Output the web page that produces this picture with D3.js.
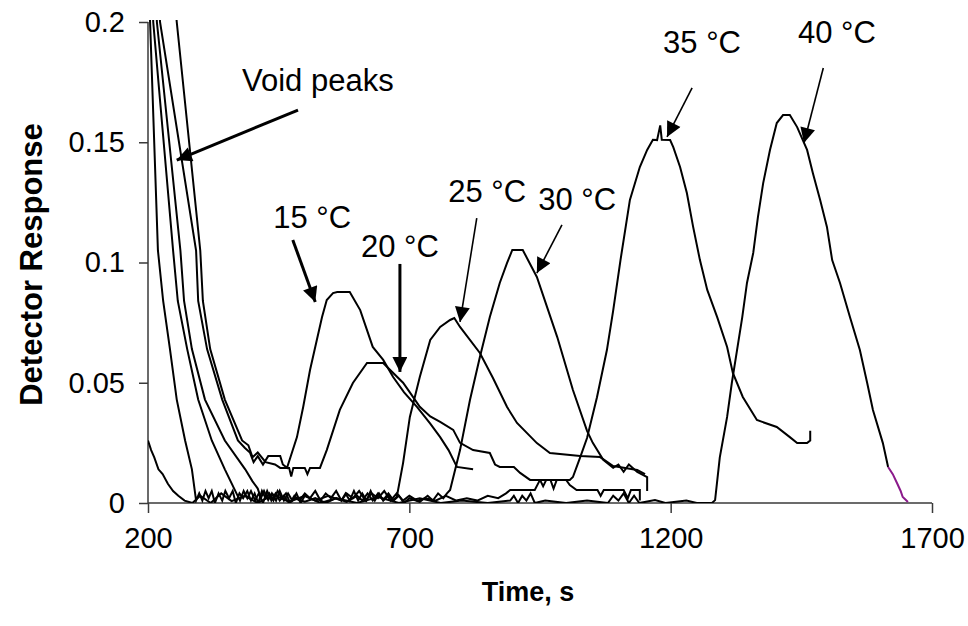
<!DOCTYPE html>
<html>
<head>
<meta charset="utf-8">
<script src="https://cdn.jsdelivr.net/npm/d3@7"></script>
<style>
  body { margin: 0; background: #fff; }
  #graphicContainer { width: 968px; height: 626px; }
  text { font-family: "Liberation Sans", Arial, sans-serif; }
</style>
</head>
<body>
<div id="graphicContainer"></div>
<script>
// tick values
const xTicks = [200, 700, 1200, 1700];
const yTicks = [0, 0.05, 0.1, 0.15, 0.2];

// one trace per column temperature, [time s, detector response]
const run15 = [[200,0.3],[223,0.2],[292,0.105],[296,0.084],[313,0.064],[342,0.043],[372,0.026],[385,0.023],[395,0.021],[402,0.017],[410,0.0195],[420,0.016],[430,0.0195],[453,0.0195],[458,0.016],[466,0.0146],[485,0.0274],[497,0.040],[510,0.0553],[523,0.0678],[533,0.0773],[542,0.0844],[554,0.0873],[562,0.0877],[586,0.0877],[606,0.0802],[630,0.0649],[650,0.0595],[669,0.0524],[690,0.046],[715,0.0399],[740,0.033],[759,0.0274],[775,0.022],[791,0.015],[822,0.014]];
const run20 = [[200,0.35],[255,0.2],[300,0.105],[305,0.084],[319,0.064],[347,0.043],[380,0.026],[392,0.024],[400,0.019],[410,0.021],[425,0.017],[443,0.016],[453,0.0146],[470,0.0146],[474,0.011],[478,0.0146],[500,0.0146],[505,0.012],[510,0.0146],[529,0.0146],[542,0.022],[567,0.0387],[592,0.0499],[619,0.0582],[650,0.0582],[660,0.056],[688,0.05],[701,0.046],[720,0.04],[740,0.036],[759,0.0337],[784,0.0304],[797,0.025],[822,0.022],[854,0.0208],[864,0.016],[873,0.015],[900,0.015],[912,0.0125],[931,0.0096],[950,0.0096],[956,0.007],[962,0.0096],[1000,0.0096],[1007,0.0075],[1020,0.0054],[1060,0.0054],[1066,0.003],[1072,0.0054],[1110,0.0054],[1118,0.002],[1124,0.0054],[1141,0.0054],[1141,0.001]];
const run25 = [[200,0.3],[217,0.2],[262,0.105],[269,0.084],[284,0.064],[309,0.043],[347,0.026],[386,0.014],[400,0.009],[410,0.006],[416,0.002],[422,0.005],[430,0.0012],[437,0.004],[445,0.001],[452,0.005],[460,0.001],[468,0.004],[476,0.001],[484,0.004],[492,0],[500,0.003],[520,0.001],[545,0.003],[570,0.001],[578,0.004],[586,0.001],[594,0.005],[602,0.001],[610,0.004],[618,0.001],[626,0.005],[634,0.001],[642,0.004],[650,0.001],[660,0.003],[669,0.0012],[676,0.0025],[688,0.0166],[701,0.0358],[720,0.0524],[740,0.0678],[759,0.0732],[778,0.0761],[786,0.0769],[797,0.0732],[835,0.0624],[860,0.052],[887,0.0399],[906,0.0333],[944,0.0249],[969,0.0208],[1027,0.0195],[1065,0.0191],[1090,0.0154],[1136,0.0137],[1151,0.012]];
const run30 = [[200,0.28],[210,0.2],[248,0.105],[257,0.084],[275,0.064],[296,0.043],[322,0.026],[347,0.014],[376,0.001],[383,0.005],[390,0.002],[397,0.005],[405,0.001],[412,0.004],[420,0],[428,0.005],[436,0.001],[444,0.004],[452,0.001],[460,0.003],[470,0],[480,0.002],[500,0.0005],[520,0.002],[540,0],[560,0.002],[580,0.0005],[600,0.003],[610,0.001],[620,0.004],[630,0.001],[640,0.004],[650,0.0012],[660,0.004],[670,0.001],[680,0.003],[690,0],[700,0.002],[720,0.0005],[735,0.003],[745,0.001],[755,0.004],[765,0.002],[772,0.004],[778,0.0054],[797,0.022],[816,0.0428],[835,0.0607],[854,0.0773],[873,0.0915],[887,0.0998],[897,0.1052],[917,0.1052],[944,0.094],[983,0.069],[1013,0.047],[1040,0.030],[1051,0.025],[1071,0.018],[1090,0.0146],[1100,0.016],[1110,0.013],[1120,0.016],[1136,0.0129],[1155,0.0108],[1155,0.005]];
const run35 = [[200,0.23],[204,0.2],[219,0.105],[229,0.084],[242,0.064],[255,0.043],[271,0.026],[284,0.014],[292,0.001],[298,0.004],[304,0.001],[310,0.005],[316,0.002],[322,0.005],[328,0],[335,0.004],[342,0.001],[348,0.005],[355,0.002],[362,0.005],[368,0],[375,0.004],[382,0.002],[390,0.005],[397,0.001],[404,0.004],[411,0],[418,0.005],[425,0.002],[432,0.004],[440,0.001],[448,0.005],[456,0.002],[464,0.004],[472,0],[480,0.003],[490,0.001],[500,0.004],[510,0.002],[520,0.005],[530,0.001],[540,0.004],[550,0.002],[560,0.005],[570,0.001],[580,0.004],[592,0.002],[604,0.005],[616,0.001],[628,0.004],[640,0.002],[652,0.005],[664,0.001],[676,0.004],[688,0.001],[700,0.003],[715,0.001],[730,0.002],[750,0.001],[770,0.003],[790,0.001],[810,0.002],[830,0.001],[850,0.003],[870,0.002],[885,0.004],[893,0.0054],[940,0.0054],[950,0.0096],[970,0.0096],[976,0.006],[982,0.0096],[1007,0.0096],[1013,0.0108],[1027,0.0191],[1040,0.027],[1059,0.044],[1078,0.0636],[1090,0.080],[1104,0.101],[1122,0.126],[1141,0.1397],[1155,0.1468],[1166,0.151],[1174,0.1509],[1180,0.157],[1183,0.151],[1199,0.1509],[1205,0.148],[1218,0.1397],[1231,0.1289],[1243,0.1148],[1256,0.101],[1270,0.0886],[1289,0.0773],[1308,0.0649],[1319,0.0541],[1338,0.0441],[1365,0.0345],[1403,0.0316],[1428,0.0274],[1442,0.0249],[1461,0.0249],[1467,0.026],[1467,0.03]];
const run40 = [[200,0.026],[206,0.022],[212,0.019],[220,0.014],[228,0.012],[238,0.008],[248,0.005],[258,0.003],[270,0.001],[285,0],[300,0.003],[320,0],[340,0.004],[360,0.0008],[385,0.003],[410,0],[440,0.0035],[470,0.0005],[500,0.003],[530,0],[560,0.002],[600,0],[640,0.0025],[680,0],[720,0.002],[760,0],[800,0.001],[850,0],[893,0.001],[900,0.003],[908,0],[916,0.003],[924,0.001],[932,0.004],[940,0],[960,0.001],[1000,0],[1040,0.001],[1080,0],[1090,0.003],[1100,0.001],[1110,0.004],[1120,0],[1130,0.003],[1140,0],[1170,0.0012],[1190,0],[1230,0.001],[1250,0],[1279,0],[1285,0.0012],[1294,0.019],[1308,0.0358],[1317,0.0499],[1327,0.0636],[1337,0.0773],[1346,0.0915],[1358,0.104],[1367,0.119],[1377,0.133],[1390,0.1468],[1403,0.158],[1415,0.1613],[1428,0.1613],[1442,0.1563],[1461,0.1468],[1472,0.1372],[1486,0.126],[1499,0.1148],[1509,0.101],[1524,0.0915],[1543,0.0773],[1562,0.0636],[1576,0.0499],[1587,0.0387],[1606,0.0249],[1616,0.015]];
// last bit of the 40 C trace is drawn in purple in the source
const run40End = [[1616,0.015],[1625,0.012],[1633,0.0083],[1640,0.005],[1644,0.0025],[1654,0.0004]];

const series = [
  { name: '15', values: run15, color: '#000' },
  { name: '20', values: run20, color: '#000' },
  { name: '25', values: run25, color: '#000' },
  { name: '30', values: run30, color: '#000' },
  { name: '35', values: run35, color: '#000' },
  { name: '40', values: run40, color: '#000' },
  { name: '40end', values: run40End, color: '#8b1a8b' },
];

// callouts: label anchor + arrow from/to, in data units
const notes = [
  { text: 'Void peaks', at: [525, 0.1713], from: [487, 0.1634], to: [255, 0.1426], w: 3 },
  { text: '15 \u00B0C', at: [514, 0.1143], from: [477, 0.1094], to: [520, 0.0836], w: 3 },
  { text: '20 \u00B0C', at: [682, 0.1023], from: [682, 0.0994], to: [682, 0.0545], w: 3 },
  { text: '25 \u00B0C', at: [849, 0.1252], from: [829, 0.1185], to: [797, 0.0753], w: 1.6 },
  { text: '30 \u00B0C', at: [1021, 0.1218], from: [992, 0.1156], to: [944, 0.0956], w: 1.6 },
  { text: '35 \u00B0C', at: [1260, 0.1871], from: [1241, 0.1726], to: [1193, 0.1522], w: 1.6 },
  { text: '40 \u00B0C', at: [1518, 0.1913], from: [1492, 0.1809], to: [1455, 0.1497], w: 1.6 },
];

const container = d3.select('#graphicContainer');
const Width = 968, Height = 626;
const Margin = { t: 22, r: 36, b: 123, l: 148 };
const innerW = Width - Margin.l - Margin.r;
const innerH = Height - Margin.t - Margin.b;
const axisColor = '#3a3a3a';

const x = d3.scaleLinear().domain([200, 1700]).range([0, innerW]);
const y = d3.scaleLinear().domain([0, 0.2]).range([innerH, 0]);

const svg = container.append('svg')
  .attr('width', Width)
  .attr('height', Height);

svg.append('defs').append('clipPath')
  .attr('id', 'plotClip')
  .append('rect')
  .attr('x', 0).attr('y', -2)
  .attr('width', innerW).attr('height', innerH + 2);

const g = svg.append('g')
  .attr('transform', `translate(${Margin.l}, ${Margin.t})`);

// axes
const xAxis = g.append('g')
  .attr('class', 'xAxis')
  .attr('transform', `translate(0, ${innerH})`)
  .call(d3.axisBottom(x).tickValues(xTicks).tickSize(10).tickPadding(14).tickFormat(d3.format('d')));
const yAxis = g.append('g')
  .attr('class', 'yAxis')
  .call(d3.axisLeft(y).tickValues(yTicks).tickSize(9).tickPadding(14).tickFormat(d => String(d)));

[xAxis, yAxis].forEach(a => {
  a.select('.domain').attr('stroke', axisColor).attr('stroke-width', 1.5);
  a.selectAll('.tick line').attr('stroke', axisColor).attr('stroke-width', 1.5);
  a.selectAll('.tick text').attr('fill', '#000').style('font-size', '29px');
});
// keep the outer tick stubs off the domain path
xAxis.select('.domain').attr('d', `M0,0H${innerW}`);
yAxis.select('.domain').attr('d', `M0,${innerH}V0`);

// traces
const line = d3.line()
  .x(d => x(d[0]))
  .y(d => y(d[1]));

g.append('g')
  .attr('class', 'traces')
  .attr('clip-path', 'url(#plotClip)')
  .selectAll('.trace')
  .data(series)
  .enter()
  .append('path')
  .attr('class', 'trace')
  .attr('fill', 'none')
  .attr('stroke', d => d.color)
  .attr('stroke-width', 2)
  .attr('stroke-linejoin', 'miter')
  .attr('d', d => line(d.values));

// arrows
svg.select('defs').append('marker')
  .attr('id', 'head')
  .attr('viewBox', '0 0 10 10')
  .attr('refX', 10).attr('refY', 5)
  .attr('markerUnits', 'userSpaceOnUse')
  .attr('markerWidth', 17).attr('markerHeight', 15)
  .attr('orient', 'auto')
  .append('path')
  .attr('d', 'M0,0L10,5L0,10Z')
  .attr('fill', '#000');

const noteG = g.append('g').attr('class', 'notes');
noteG.selectAll('.arrow')
  .data(notes)
  .enter()
  .append('line')
  .attr('class', 'arrow')
  .attr('x1', d => x(d.from[0])).attr('y1', d => y(d.from[1]))
  .attr('x2', d => x(d.to[0])).attr('y2', d => y(d.to[1]))
  .attr('stroke', '#000')
  .attr('stroke-width', d => d.w)
  .attr('marker-end', 'url(#head)');

noteG.selectAll('.noteLabel')
  .data(notes)
  .enter()
  .append('text')
  .attr('class', 'noteLabel')
  .attr('x', d => x(d.at[0]))
  .attr('y', d => y(d.at[1]))
  .attr('text-anchor', 'middle')
  .style('font-size', '31px')
  .text(d => d.text);

// axis titles
g.append('text')
  .attr('x', innerW / 2 - 12)
  .attr('y', innerH + 98)
  .attr('text-anchor', 'middle')
  .style('font-size', '27px')
  .style('font-weight', 'bold')
  .text('Time, s');

g.append('text')
  .attr('transform', `translate(${-106}, ${innerH / 2 + 2}) rotate(-90)`)
  .attr('text-anchor', 'middle')
  .style('font-size', '31px')
  .style('font-weight', 'bold')
  .text('Detector Response');
</script>
</body>
</html>
